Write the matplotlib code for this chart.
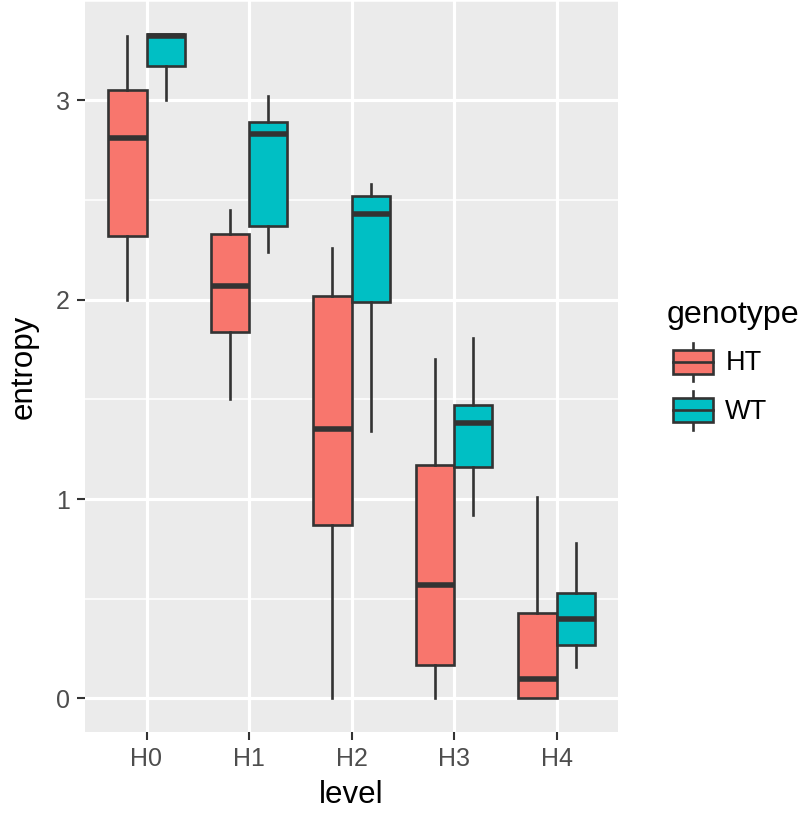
import matplotlib
matplotlib.use("Agg")
import matplotlib.pyplot as plt
from matplotlib.patches import Rectangle, Patch
from matplotlib.lines import Line2D
from matplotlib.legend_handler import HandlerBase
import numpy as np

plt.rcParams['font.family'] = ['Liberation Sans', 'DejaVu Sans']

# ---- data ----
levels = ["H0", "H1", "H2", "H3", "H4"]
genotypes = ["HT", "WT"]
colors = {"HT": "#F8766D", "WT": "#00BFC4"}

ht_whislo = [2.00, 1.50, 0.00, 0.00, 0.00]
ht_q1     = [2.32, 1.84, 0.87, 0.17, 0.00]
ht_med    = [2.81, 2.07, 1.35, 0.57, 0.10]
ht_q3     = [3.05, 2.33, 2.02, 1.17, 0.43]
ht_whishi = [3.32, 2.45, 2.26, 1.70, 1.01]

wt_whislo = [3.00, 2.24, 1.34, 0.92, 0.16]
wt_q1     = [3.17, 2.37, 1.99, 1.16, 0.27]
wt_med    = [3.32, 2.83, 2.43, 1.38, 0.40]
wt_q3     = [3.33, 2.89, 2.52, 1.47, 0.53]
wt_whishi = [3.33, 3.02, 2.58, 1.81, 0.78]

stats_src = {
    "HT": (ht_whislo, ht_q1, ht_med, ht_q3, ht_whishi),
    "WT": (wt_whislo, wt_q1, wt_med, wt_q3, wt_whishi),
}

EDGE = "#333333"
fig = plt.figure(figsize=(8, 8.18), dpi=100)
W, H = 800, 818
pl, pr, pb, pt = 85, 618, 731.7, 0.5
ax = fig.add_axes([pl / W, 1 - pb / H, (pr - pl) / W, (pb - pt) / H])
ax.set_facecolor("#EBEBEB")
for s in ax.spines.values():
    s.set_visible(False)

xpos = np.arange(1, len(levels) + 1)
offsets = {"HT": -0.1875, "WT": 0.1875}
bw = 0.375
for g in genotypes:
    lo, q1, med, q3, hi = stats_src[g]
    stats = [dict(whislo=lo[i], q1=q1[i], med=med[i], q3=q3[i], whishi=hi[i], fliers=[])
             for i in range(len(levels))]
    ax.bxp(stats, positions=xpos + offsets[g], widths=bw, patch_artist=True,
           showcaps=False, showfliers=False, manage_ticks=False,
           boxprops=dict(facecolor=colors[g], edgecolor=EDGE, linewidth=1.9),
           whiskerprops=dict(color=EDGE, linewidth=1.9),
           medianprops=dict(color=EDGE, linewidth=4.0, solid_capstyle='butt'),
           zorder=3)

allv = np.concatenate([ht_whislo, ht_whishi, wt_whislo, wt_whishi])
lo_, hi_ = allv.min(), allv.max()
pad = 0.05 * (hi_ - lo_)
ax.set_ylim(lo_ - pad, hi_ + pad)
ax.set_xlim(0.4, len(levels) + 0.6)

ax.set_xticks(xpos)
ax.set_xticklabels(levels)
ax.set_yticks([0, 1, 2, 3])
ax.set_yticks([0.5, 1.5, 2.5, 3.5], minor=True)
ax.grid(which="major", color="white", linewidth=2.3, zorder=0)
ax.grid(which="minor", axis="y", color="white", linewidth=1.1, zorder=0)
ax.set_axisbelow(True)
ax.tick_params(axis="both", which="major", length=5.5, width=1.5, color=EDGE,
               labelsize=18, labelcolor="#4D4D4D", pad=5.5)
ax.tick_params(axis="both", which="minor", length=0)
ax.tick_params(axis="x", which="minor", bottom=False)

fig.text((pl + pr) / 2 / W, 1 - 795 / H, "level", ha="center", va="center", fontsize=22.5)
fig.text(24 / W, 1 - 367 / H, "entropy", ha="center", va="center", rotation=90, fontsize=22.5)


class BoxKeyHandler(HandlerBase):
    def create_artists(self, legend, orig_handle, xdescent, ydescent, width, height, fontsize, trans):
        x0, y0 = -xdescent, -ydescent
        fc = orig_handle.get_facecolor()
        cx = x0 + width / 2
        arts = [
            Line2D([cx, cx], [y0 + 0.1 * height, y0 + 0.25 * height], color=EDGE, lw=1.9, transform=trans),
            Line2D([cx, cx], [y0 + 0.75 * height, y0 + 0.9 * height], color=EDGE, lw=1.9, transform=trans),
            Rectangle((x0 + 0.125 * width, y0 + 0.25 * height), 0.75 * width, 0.5 * height,
                      facecolor=fc, edgecolor=EDGE, lw=1.9, transform=trans),
            Line2D([x0 + 0.125 * width, x0 + 0.875 * width], [y0 + 0.5 * height] * 2,
                   color=EDGE, lw=1.9, transform=trans),
        ]
        return arts


# legend title
fig.text(667 / W, 1 - 323 / H, "genotype", ha="left", va="baseline", fontsize=23.2)
handles = [Patch(facecolor=colors[g]) for g in genotypes]
leg = fig.legend(handles, genotypes, loc="upper left",
                 bbox_to_anchor=(666 / W, 1 - 338 / H), frameon=False,
                 fontsize=19.5, handlelength=2.0, handleheight=2.36,
                 handletextpad=0.19, labelspacing=0.0, borderpad=0, borderaxespad=0,
                 handler_map={Patch: BoxKeyHandler()})

fig.savefig("out.png", dpi=100)
